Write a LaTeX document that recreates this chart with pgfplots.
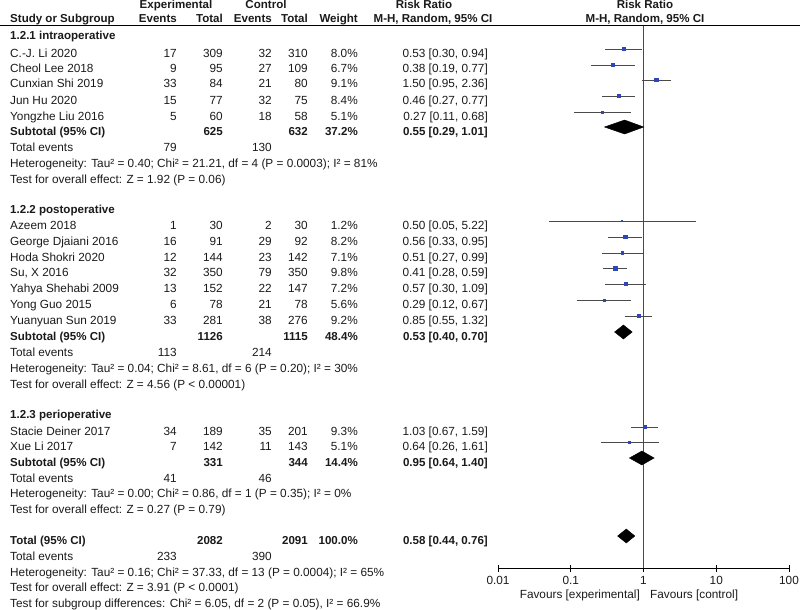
\documentclass[border=0pt]{standalone}
\usepackage{fontspec}
\setmainfont{Liberation Sans}
\usepackage{pgfplots}
\usepackage{pgfplotstable}
\pgfplotsset{compat=1.18}
\definecolor{sqblue}{HTML}{2E46B8}
\definecolor{cigray}{HTML}{4A4A4A}
\definecolor{txt}{HTML}{1A1A1A}
\newcommand\fs{\fontsize{11.8pt}{13pt}\selectfont}
\newcommand\B{\fontsize{11.55pt}{13pt}\selectfont\bfseries}
\newcommand\Lt[3]{\node[anchor=base west,inner sep=0pt] at (#1pt,-#2pt) {#3};}
\newcommand\Rt[3]{\node[anchor=base east,inner sep=0pt] at (#1pt,-#2pt) {#3};}
\newcommand\Ct[3]{\node[anchor=base,inner sep=0pt] at (#1pt,-#2pt) {#3};}
% baseline, name, exp events, exp total, ctrl events, ctrl total, weight, CI
\newcommand\Study[8]{\Lt{10}{#1}{#2}\Rt{177}{#1}{#3}\Rt{223}{#1}{#4}\Rt{272}{#1}{#5}\Rt{308}{#1}{#6}\Rt{358}{#1}{#7}\Rt{488}{#1}{#8}}
\newcommand\Sub[5]{\Lt{10}{#1}{\B Subtotal (95\% CI)}\Rt{223}{#1}{\B #2}\Rt{308}{#1}{\B #3}\Rt{358}{#1}{\B #4}\Rt{488}{#1}{\B #5}}
\newcommand\Tev[3]{\Lt{10}{#1}{Total events}\Rt{177}{#1}{#2}\Rt{272}{#1}{#3}}

\pgfplotstableread{
y rr w
-49 0.53 8.0
-65 0.38 6.7
-80 1.50 9.1
-96 0.46 8.4
-112 0.27 5.1
-221 0.50 1.2
-237 0.56 8.2
-253 0.51 7.1
-268 0.41 9.8
-284 0.57 7.2
-300 0.29 5.6
-316 0.85 9.2
-427 1.03 9.3
-442 0.64 5.1
}\studies

\pgfplotstableread{
x y
0.30 -49
0.94 -49
nan nan
0.19 -65
0.77 -65
nan nan
0.95 -80
2.36 -80
nan nan
0.27 -96
0.77 -96
nan nan
0.11 -112
0.68 -112
nan nan
0.05 -221
5.22 -221
nan nan
0.33 -237
0.95 -237
nan nan
0.27 -253
0.99 -253
nan nan
0.28 -268
0.59 -268
nan nan
0.30 -284
1.09 -284
nan nan
0.12 -300
0.67 -300
nan nan
0.55 -316
1.32 -316
nan nan
0.67 -427
1.59 -427
nan nan
0.26 -442
1.61 -442
}\cilines

\begin{document}
\begin{tikzpicture}
\useasboundingbox (0pt,0pt) rectangle (800pt,-610pt);
\begin{axis}[
  at={(498pt,-568pt)}, anchor=south west,
  scale only axis, width=291pt, height=543pt,
  xmode=log, xmin=0.01, xmax=100, ymin=-568, ymax=-25,
  axis x line=bottom, axis y line=none,
  x axis line style={-, line width=0.8pt},
  xtick={0.01,0.1,1,10,100}, xticklabels={0.01,0.1,1,10,100},
  xminorticks=false,
  tick align=center, major tick length=7pt,
  every tick/.style={black, line width=0.8pt},
  tick label style={font=\fs, inner sep=1pt, text=txt},
  xticklabel style={yshift=-4pt},
  /pgf/number format/assume math mode=true,
  clip=false,
  unbounded coords=jump,
]
\addplot[cigray, line width=0.8pt] coordinates {(1,-25) (1,-568)};
\addplot[cigray, line width=0.8pt, no marks] table[x=x,y=y] {\cilines};
\addplot[only marks, mark=square*, scatter,
  scatter/use mapped color={draw=sqblue,fill=sqblue},
  point meta=explicit,
  visualization depends on={0.55+0.12*\thisrow{w} \as \ms},
  scatter/@pre marker code/.append style={/tikz/mark size=\ms pt}]
  table[x=rr,y=y,meta=w] {\studies};
\addplot[fill=black, draw=black] coordinates {(0.29,-127) (0.55,-120) (1.01,-127) (0.55,-134)} --cycle;
\addplot[fill=black, draw=black] coordinates {(0.40,-332) (0.53,-325) (0.70,-332) (0.53,-339)} --cycle;
\addplot[fill=black, draw=black] coordinates {(0.64,-458) (0.95,-451) (1.40,-458) (0.95,-465)} --cycle;
\addplot[fill=black, draw=black] coordinates {(0.44,-536) (0.58,-529) (0.76,-536) (0.58,-543)} --cycle;
\end{axis}
\draw[line width=0.8pt] (0pt,-25pt) -- (800pt,-25pt);
\begin{scope}[font=\fs, text=txt]
% headers
\Ct{176}{9}{\B Experimental}
\Ct{266}{9}{\B Control}
\Ct{424}{9}{\B Risk Ratio}
\Ct{645}{9}{\B Risk Ratio}
\Lt{10}{23}{\B Study or Subgroup}
\Rt{177}{23}{\B Events}
\Rt{223}{23}{\B Total}
\Rt{272}{23}{\B Events}
\Rt{308}{23}{\B Total}
\Rt{358}{23}{\B Weight}
\Ct{433}{23}{\B M-H, Random, 95\% CI}
\Ct{645}{23}{\B M-H, Random, 95\% CI}
% group 1
\Lt{10}{40}{\B 1.2.1 intraoperative}
\Study{57}{C.-J. Li 2020}{17}{309}{32}{310}{8.0\%}{0.53 [0.30, 0.94]}
\Study{73}{Cheol Lee 2018}{9}{95}{27}{109}{6.7\%}{0.38 [0.19, 0.77]}
\Study{88}{Cunxian Shi 2019}{33}{84}{21}{80}{9.1\%}{1.50 [0.95, 2.36]}
\Study{104}{Jun Hu 2020}{15}{77}{32}{75}{8.4\%}{0.46 [0.27, 0.77]}
\Study{120}{Yongzhe Liu 2016}{5}{60}{18}{58}{5.1\%}{0.27 [0.11, 0.68]}
\Sub{135}{625}{632}{37.2\%}{0.55 [0.29, 1.01]}
\Tev{151}{79}{130}
\Lt{10}{167}{Heterogeneity: Tau² = 0.40; Chi² = 21.21, df = 4 (P = 0.0003); I² = 81\%}
\Lt{10}{183}{Test for overall effect: Z = 1.92 (P = 0.06)}
% group 2
\Lt{10}{213}{\B 1.2.2 postoperative}
\Study{229}{Azeem 2018}{1}{30}{2}{30}{1.2\%}{0.50 [0.05, 5.22]}
\Study{245}{George Djaiani 2016}{16}{91}{29}{92}{8.2\%}{0.56 [0.33, 0.95]}
\Study{261}{Hoda Shokri 2020}{12}{144}{23}{142}{7.1\%}{0.51 [0.27, 0.99]}
\Study{276}{Su, X 2016}{32}{350}{79}{350}{9.8\%}{0.41 [0.28, 0.59]}
\Study{292}{Yahya Shehabi 2009}{13}{152}{22}{147}{7.2\%}{0.57 [0.30, 1.09]}
\Study{308}{Yong Guo 2015}{6}{78}{21}{78}{5.6\%}{0.29 [0.12, 0.67]}
\Study{324}{Yuanyuan Sun 2019}{33}{281}{38}{276}{9.2\%}{0.85 [0.55, 1.32]}
\Sub{340}{1126}{1115}{48.4\%}{0.53 [0.40, 0.70]}
\Tev{356}{113}{214}
\Lt{10}{372}{Heterogeneity: Tau² = 0.04; Chi² = 8.61, df = 6 (P = 0.20); I² = 30\%}
\Lt{10}{388}{Test for overall effect: Z = 4.56 (P < 0.00001)}
% group 3
\Lt{10}{418}{\B 1.2.3 perioperative}
\Study{435}{Stacie Deiner 2017}{34}{189}{35}{201}{9.3\%}{1.03 [0.67, 1.59]}
\Study{450}{Xue Li 2017}{7}{142}{11}{143}{5.1\%}{0.64 [0.26, 1.61]}
\Sub{466}{331}{344}{14.4\%}{0.95 [0.64, 1.40]}
\Tev{482}{41}{46}
\Lt{10}{497}{Heterogeneity: Tau² = 0.00; Chi² = 0.86, df = 1 (P = 0.35); I² = 0\%}
\Lt{10}{513}{Test for overall effect: Z = 0.27 (P = 0.79)}
% total
\Lt{10}{544}{\B Total (95\% CI)}
\Rt{223}{544}{\B 2082}
\Rt{308}{544}{\B 2091}
\Rt{358}{544}{\B 100.0\%}
\Rt{488}{544}{\B 0.58 [0.44, 0.76]}
\Tev{560}{233}{390}
\Lt{10}{576}{Heterogeneity: Tau² = 0.16; Chi² = 37.33, df = 13 (P = 0.0004); I² = 65\%}
\Lt{10}{591}{Test for overall effect: Z = 3.91 (P < 0.0001)}
\Lt{10}{607}{Test for subgroup differences: Chi² = 6.05, df = 2 (P = 0.05), I² = 66.9\%}
% favours
\Rt{640}{598}{Favours [experimental]}
\Lt{650}{598}{Favours [control]}
\end{scope}
\end{tikzpicture}
\end{document}
